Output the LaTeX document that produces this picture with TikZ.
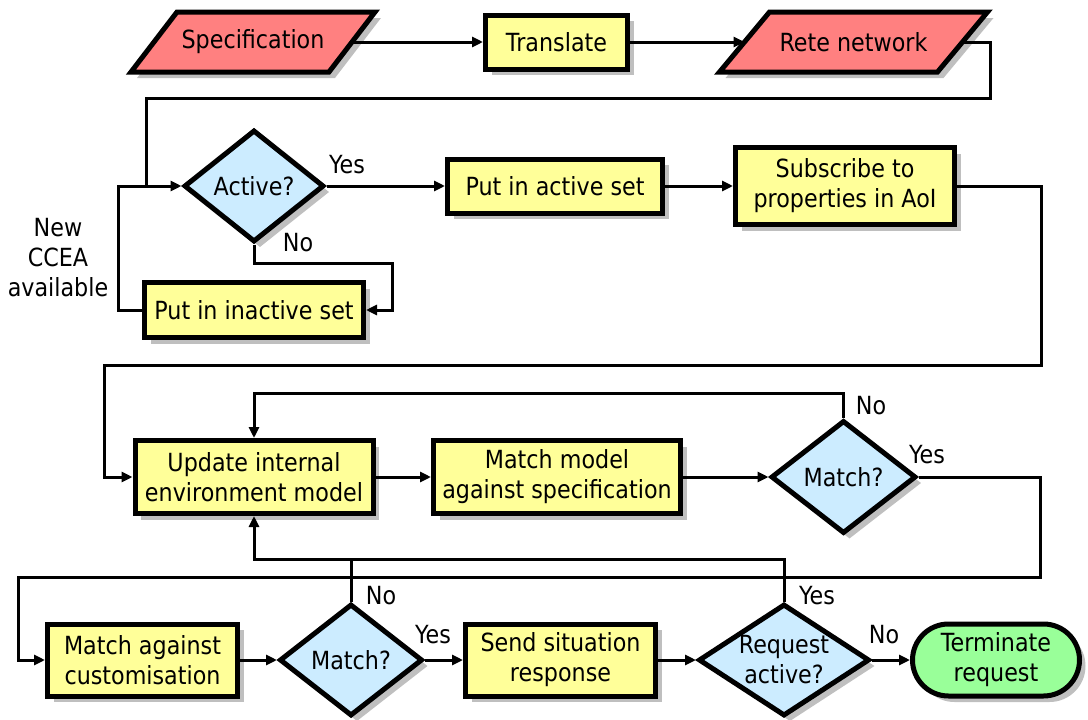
\documentclass[tikz,border=0pt]{standalone}
\usepackage{fontspec}
\setmainfont{DejaVu Sans}[FakeStretch=0.89]
\usetikzlibrary{arrows.meta,shapes.geometric,shadows,backgrounds,calc}

\definecolor{iored}{RGB}{255,128,128}
\definecolor{procyellow}{RGB}{255,255,153}
\definecolor{decblue}{RGB}{204,236,255}
\definecolor{termgreen}{RGB}{153,255,153}

\begin{document}
\begin{tikzpicture}[x=1pt,y=-1pt,
  font=\fontsize{25}{30}\selectfont,
  shad/.style={drop shadow={shadow xshift=6pt,shadow yshift=-6pt,fill=black!25,opacity=1}},
  proc/.style={rectangle, draw, line width=5pt, fill=procyellow, align=center, inner sep=0pt, shad},
  dec/.style={diamond, draw, line width=5pt, fill=decblue, inner sep=0pt, shad},
  term/.style={rectangle, draw, line width=5pt, fill=termgreen, align=center, inner sep=0pt, shad},
  iotext/.style={rectangle, inner sep=0pt, outer sep=3pt, minimum height=54pt, align=center},
  iobox/.style={draw, line width=5pt, fill=iored, shad},
  dtext/.style={align=center, inner sep=0pt},
  lbl/.style={inner sep=0pt},
  conn/.style={line width=3pt},
  arr/.style={conn, -{Triangle[length=11pt,width=10pt]}}]

\useasboundingbox (0,0) rectangle (1088,720);

% ---- top row: input, translation, network
\node[iotext, minimum width=192pt] (spec) at (253,42) {Specification};
\node[proc, minimum width=142pt, minimum height=54pt] (trans) at (556.5,42) {Translate};
\node[iotext, minimum width=212pt] (rete) at (853.5,42) {Rete network};
\begin{scope}[on background layer]
  \draw[iobox] ([xshift=-23pt]spec.south west) -- ([xshift=-23pt]spec.south east)
    -- ([xshift=23pt]spec.north east) -- ([xshift=23pt]spec.north west) -- cycle;
  \draw[iobox] ([xshift=-25pt]rete.south west) -- ([xshift=-25pt]rete.south east)
    -- ([xshift=25pt]rete.north east) -- ([xshift=25pt]rete.north west) -- cycle;
\end{scope}

% ---- activation stage
\node[dec, minimum width=140pt, minimum height=112pt] (active) at (254,186) {};
\node[dtext] (activet) at (active) {Active?};
\node[proc, minimum width=215pt, minimum height=54pt] (putactive) at (555,186) {Put in active set};
\node[proc, minimum width=219pt, minimum height=77pt] (subscribe) at (845,186) {Subscribe to\\properties in AoI};
\node[proc, minimum width=219pt, minimum height=55pt] (inactive) at (254,310) {Put in inactive set};
\node[align=center, inner sep=0pt] (newccea) at (58,258) {New\\CCEA\\available};

% ---- model update and matching
\node[proc, minimum width=238pt, minimum height=73pt] (update) at (254,477) {Update internal\\environment model};
\node[proc, minimum width=247pt, minimum height=73pt] (matchmodel) at (557,477) {Match model\\against specification};
\node[dec, minimum width=145pt, minimum height=113pt] (match1) at (843.5,477) {};
\node[dtext] (match1t) at (match1) {Match?};

% ---- response stage
\node[proc, minimum width=190pt, minimum height=72pt] (cust) at (142.5,660) {Match against\\customisation};
\node[dec, minimum width=143pt, minimum height=112pt] (match2) at (351,660) {};
\node[dtext] (match2t) at (match2) {Match?};
\node[proc, minimum width=190pt, minimum height=72pt] (send) at (560.5,660) {Send situation\\response};
\node[dec, minimum width=171pt, minimum height=112pt] (request) at (784,660) {};
\node[dtext] (requestt) at (request) {Request\\active?};
\node[term, minimum width=167pt, minimum height=72pt, rounded corners=36pt] (terminate) at (996,660) {Terminate\\request};

% ---- branch labels
\node[lbl] (yes1) at (347,165) {Yes};
\node[lbl] (no1) at (298,243) {No};
\node[lbl] (no2) at (871,406) {No};
\node[lbl] (yes2) at (927,455) {Yes};
\node[lbl] (no3) at (381,596) {No};
\node[lbl] (yes3) at (433,635) {Yes};
\node[lbl] (yes4) at (817,596) {Yes};
\node[lbl] (no4) at (884,635) {No};

% ---- junction points
\coordinate (j1) at (146,186);
\coordinate (j2) at (254,559);

% ---- connectors
\draw[arr] (spec.east) -- (trans.west);
\draw[arr] (trans.east) -- (rete.west);
\draw[conn] (rete.east) -| (990,98) -| (j1);
\draw[arr] (inactive.west) -| (118,240) |- (active.west);
\draw[arr] (active.east) -- (putactive.west);
\draw[arr] (putactive.east) -- (subscribe.west);
\draw[arr] (active.south) |- (392,263) |- (inactive.east);
\draw[arr] (subscribe.east) -| (1041,365) -| (104,420) |- (update.west);
\draw[arr] (update.east) -- (matchmodel.west);
\draw[arr] (matchmodel.east) -- (match1.west);
\draw[arr] (match1.north) -- ++(0,-25) -| (update.north);
\draw[arr] (match1.east) -| (1040,577) -| (18,620) |- (cust.west);
\draw[arr] (cust.east) -- (match2.west);
\draw[arr] (match2.east) -- (send.west);
\draw[arr] (send.east) -- (request.west);
\draw[arr] (request.east) -- (terminate.west);
\draw[arr] (request.north) |- (j2) -- (update.south);
\draw[conn] (match2.north) -- (match2.north |- j2);
\end{tikzpicture}
\end{document}
